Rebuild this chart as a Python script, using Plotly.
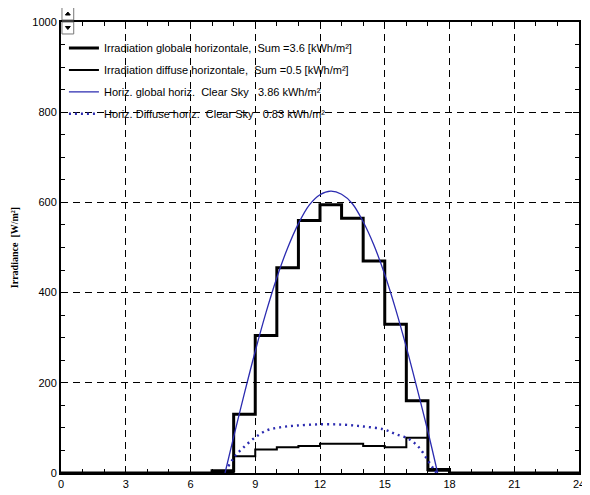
import plotly.graph_objects as go

# hourly steps (hour start 0..24)
hours = list(range(25))
global_meas = [0, 0, 0, 0, 0, 0, 0, 5, 130, 305, 455, 560, 595, 565, 470, 330, 160, 8, 0, 0, 0, 0, 0, 0, 0]
diffuse_meas = [0, 0, 0, 0, 0, 0, 0, 2, 37, 52, 57, 60, 65, 65, 60, 57, 78, 5, 0, 0, 0, 0, 0, 0, 0]

# clear sky global
cs_t = [7.6, 8.0, 8.5, 9.0, 9.5, 10.0, 10.5, 11.0, 11.5, 12.0, 12.5, 13.0, 13.5, 14.0, 14.5, 15.0, 15.5, 16.0, 16.5, 17.0, 17.45]
cs_global = [0, 80, 177, 270, 356, 433, 499, 553, 594, 617, 625, 618, 597, 557, 505, 440, 364, 279, 187, 92, 0]

# clear sky diffuse
csd_t = [7.75, 8.08, 8.46, 9.0, 9.51, 10.11, 10.87, 12.0, 13.12, 14.03, 14.93, 15.53, 16.13, 16.58, 16.96, 17.26, 17.4]
csd_vals = [15, 38, 57, 79, 94, 101, 105, 108, 107, 103, 97, 86, 75, 57, 31, 9, 0]

x_ticks = [0, 3, 6, 9, 12, 15, 18, 21, 24]
y_ticks = [0, 200, 400, 600, 800, 1000]

legend_names = [
    "Irradiation globale horizontale,  Sum =3.6 [kWh/m²]",
    "Irradiation diffuse horizontale,  Sum =0.5 [kWh/m²]",
    "Horiz. global horiz.  Clear Sky   3.86 kWh/m²",
    "Horiz. Diffuse horiz.  Clear Sky   0.83 kWh/m²",
]

FONT = "Liberation Sans Narrow, Liberation Sans, Arial, sans-serif"
BLUE = "#2b2bb0"

# page has an 8px body margin; plot area target: left 56, right 585, top 22, bottom 474
OFF = 8
W, H = 590 - OFF, 495 - OFF
L, T, R, B = 56 - OFF, 22 - OFF, 5, 21


def px(x):
    return (x - 56) / 529


def py(y):
    return (474 - y) / 452


fig = go.Figure()
fig.add_trace(go.Scatter(x=hours, y=global_meas, mode="lines", line=dict(color="black", width=3, shape="hv"),
                         name=legend_names[0], legend="legend"))
fig.add_trace(go.Scatter(x=hours, y=diffuse_meas, mode="lines", line=dict(color="black", width=2, shape="hv"),
                         name=legend_names[1], legend="legend2"))
fig.add_trace(go.Scatter(x=cs_t, y=cs_global, mode="lines", line=dict(color=BLUE, width=1.3, shape="spline"),
                         name=legend_names[2], legend="legend3"))
fig.add_trace(go.Scatter(x=csd_t, y=csd_vals, mode="lines",
                         line=dict(color=BLUE, width=2.4, dash="2px,4px", shape="spline"),
                         name=legend_names[3], legend="legend4"))

leg_y = [48, 70, 92, 114]
legs = {}
for i, yy in enumerate(leg_y):
    key = "legend" if i == 0 else f"legend{i + 1}"
    legs[key] = dict(x=px(59), y=py(yy), xanchor="left", yanchor="middle", bgcolor="rgba(0,0,0,0)",
                     font=dict(family=FONT, size=11, color="black"), itemwidth=30)

fig.update_layout(
    width=W, height=H,
    margin=dict(l=L, r=R, t=T, b=B),
    plot_bgcolor="white", paper_bgcolor="white",
    font=dict(family=FONT, size=11, color="black"),
    showlegend=True,
    xaxis=dict(range=[0, 24], tickvals=x_ticks, showgrid=True, gridcolor="black", griddash="7px,5px", gridwidth=1.4,
               zeroline=False, showline=True, linecolor="black", linewidth=2, mirror="allticks",
               ticks="inside", ticklen=6, tickcolor="black",
               minor=dict(dtick=1, ticks="inside", ticklen=4, tickcolor="black", showgrid=False),
               tickfont=dict(family=FONT, size=11)),
    yaxis=dict(range=[0, 1000], tickvals=y_ticks, showgrid=True, gridcolor="black", griddash="7px,5px", gridwidth=1.4,
               zeroline=False, showline=True, linecolor="black", linewidth=2, mirror="allticks",
               ticks="inside", ticklen=6, tickcolor="black",
               minor=dict(dtick=50, ticks="inside", ticklen=4, tickcolor="black", showgrid=False),
               tickfont=dict(family=FONT, size=11),
               title=dict(text="<b>Irradiance  [W/m²]</b>",
                          font=dict(family="Liberation Serif, Times New Roman, serif", size=10),
                          standoff=12)),
    **legs,
)

# small scroll widget at the top-left corner
for y0, y1, up in [(7, 20, True), (22, 34, False)]:
    fig.add_shape(type="rect", xref="paper", yref="paper",
                  x0=px(57), x1=px(69), y0=py(y1), y1=py(y0),
                  line=dict(color="#777", width=1), fillcolor="white", layer="above")
    cy = (y0 + y1) / 2
    if up:
        path = f"M {px(60.5)} {py(cy + 1.5)} L {px(65.5)} {py(cy + 1.5)} L {px(63)} {py(cy - 1.5)} Z"
    else:
        path = f"M {px(60.5)} {py(cy - 1.5)} L {px(65.5)} {py(cy - 1.5)} L {px(63)} {py(cy + 1.5)} Z"
    fig.add_shape(type="path", xref="paper", yref="paper", path=path,
                  line=dict(color="black", width=1), fillcolor="black", layer="above")

fig.write_html("out.html")
